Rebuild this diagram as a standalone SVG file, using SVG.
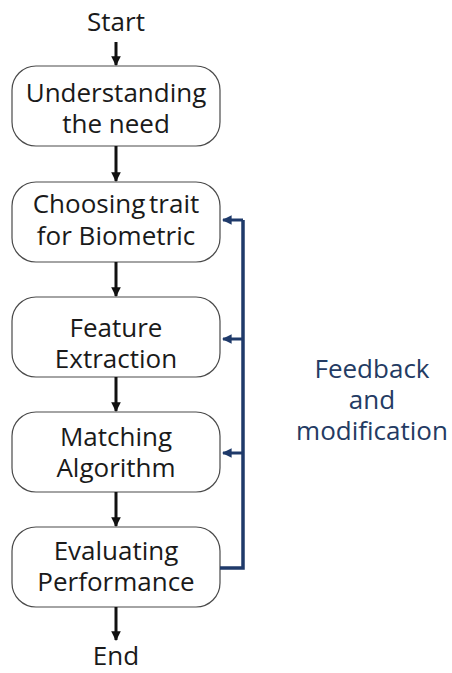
<svg xmlns="http://www.w3.org/2000/svg" width="452" height="673" viewBox="0 0 452 673">
<defs>
<style>
.box{fill:#fff;stroke:#4a4a4a;stroke-width:1.2}
.t{font-family:"Open Sans","Noto Sans",sans-serif;font-size:26px;fill:#1a1a1a;text-anchor:middle}
.tight{word-spacing:-3px}
.fb{font-family:"Open Sans","Noto Sans",sans-serif;font-size:26px;fill:#243b63;text-anchor:middle}
.flow{stroke:#111;stroke-width:3;fill:none;marker-end:url(#ah)}
.back{stroke:#1f3a6a;stroke-width:3.5;fill:none}
.bk{stroke:#1f3a6a;stroke-width:3;fill:none;marker-end:url(#ab)}
</style>
<marker id="ah" viewBox="0 0 10 10" refX="9" refY="5" markerWidth="3.4" markerHeight="3.2" orient="auto" markerUnits="strokeWidth">
<path d="M0,0 L10,5 L0,10 z" fill="#111"/>
</marker>
<marker id="ab" viewBox="0 0 10 10" refX="9" refY="5" markerWidth="3.4" markerHeight="3.2" orient="auto" markerUnits="strokeWidth">
<path d="M0,0 L10,5 L0,10 z" fill="#1f3a6a"/>
</marker>
</defs>
<rect width="452" height="673" fill="#fff"/>
<g id="start"><text class="t" x="116" y="31">Start</text></g>
<g id="n1"><rect class="box" x="12" y="66" width="208" height="80" rx="24"/><text class="t"><tspan x="116" y="102">Understanding</tspan><tspan x="116" y="133">the need</tspan></text></g>
<g id="n2"><rect class="box" x="12" y="182" width="208" height="80" rx="24"/><text class="t"><tspan class="tight" x="116" y="213">Choosing trait</tspan><tspan x="116" y="245">for Biometric</tspan></text></g>
<g id="n3"><rect class="box" x="12" y="297" width="208" height="80" rx="24"/><text class="t"><tspan x="116" y="337">Feature</tspan><tspan x="116" y="368">Extraction</tspan></text></g>
<g id="n4"><rect class="box" x="12" y="412" width="208" height="80" rx="24"/><text class="t"><tspan x="116" y="446">Matching</tspan><tspan x="116" y="477">Algorithm</tspan></text></g>
<g id="n5"><rect class="box" x="12" y="527" width="208" height="80" rx="24"/><text class="t"><tspan x="116" y="560">Evaluating</tspan><tspan x="116" y="591">Performance</tspan></text></g>
<g id="end"><text class="t" x="116" y="665">End</text></g>
<g id="label"><text class="fb"><tspan x="372" y="378">Feedback</tspan><tspan x="372" y="409">and</tspan><tspan x="372" y="440">modification</tspan></text></g>
<g id="connectors">
<path class="flow" d="M116,42 V65"/>
<path class="flow" d="M116,146 V181"/>
<path class="flow" d="M116,262 V296"/>
<path class="flow" d="M116,377 V411"/>
<path class="flow" d="M116,492 V526"/>
<path class="flow" d="M116,607 V640"/>
<path class="back" d="M220,568 H243 V220"/>
<path class="bk" d="M243,220 H223"/>
<path class="bk" d="M243,339 H223"/>
<path class="bk" d="M243,453 H223"/>
</g>
</svg>
